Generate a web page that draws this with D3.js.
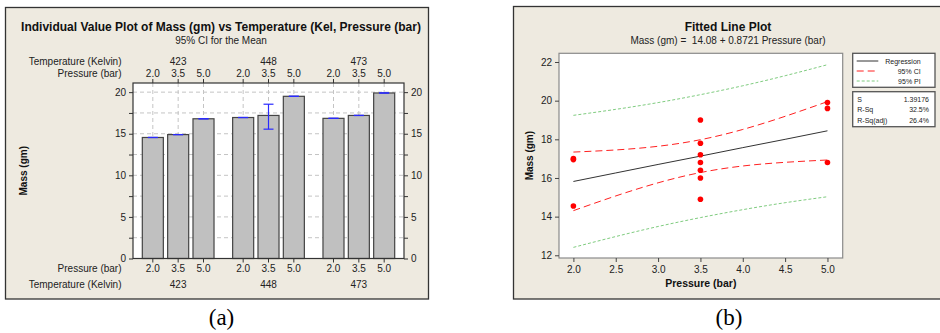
<!DOCTYPE html>
<html>
<head>
<meta charset="utf-8">
<script src="https://cdn.jsdelivr.net/npm/d3@7"></script>
<style>
  body { margin: 0; background: #fff; }
  svg { display: block; font-family: "Liberation Sans", Arial, sans-serif; }
</style>
</head>
<body>
<script>
// (a) individual value plot: means by temperature / pressure
const temps = ["423", "448", "473"];
const pressures = ["2.0", "3.5", "5.0"];
const massMeans = [14.55, 14.9, 16.8, 16.95, 17.2, 19.5, 16.85, 17.2, 19.9];
const ciLow = [14.55, 14.9, 16.8, 16.95, 15.55, 19.5, 16.85, 17.2, 19.9];
const ciHigh = [14.55, 14.9, 16.8, 16.95, 18.55, 19.5, 16.85, 17.2, 19.9];
const massTicks = [0, 2.5, 5, 7.5, 10, 12.5, 15, 17.5, 20];

// (b) fitted line plot
const obsPressure = [2, 2, 2, 3.5, 3.5, 3.5, 3.5, 3.5, 3.5, 3.5, 5, 5, 5];
const obsMass = [14.55, 16.95, 17.0, 19.0, 17.8, 17.2, 16.8, 16.4, 16.0, 14.9, 19.9, 19.6, 16.8];
const fitX = [2.0, 2.5, 3.0, 3.5, 4.0, 4.5, 5.0];
const fitY = [15.82, 16.26, 16.70, 17.13, 17.57, 18.00, 18.44];
const ciUpper = [17.34, 17.45, 17.64, 17.98, 18.51, 19.19, 19.95];
const ciLower = [14.31, 15.07, 15.75, 16.28, 16.62, 16.81, 16.93];
const piUpper = [19.24, 19.55, 19.90, 20.31, 20.77, 21.29, 21.86];
const piLower = [12.41, 12.97, 13.49, 13.95, 14.36, 14.72, 15.03];
const legendNames = ["Regression", "95% CI", "95% PI"];
const statNames = ["S", "R-Sq", "R-Sq(adj)"];
const statValues = ["1.39176", "32.5%", "26.4%"];

const bg = "#eeeae0";
const svg = d3.select("body").append("svg").attr("width", 940).attr("height", 333);

// ---------- panel (a) ----------
const pa = svg.append("g");
pa.append("rect").attr("x", 5.5).attr("y", 7.5).attr("width", 423).attr("height", 291.5)
  .attr("fill", bg).attr("stroke", "#333").attr("stroke-width", 1.3);

const aL = 133, aR = 404, aT = 83, aB = 258.5;
const x0 = d3.scaleBand().domain(temps).range([aL, aR]).paddingInner(0.15).paddingOuter(0.075);
const x1 = d3.scaleBand().domain(pressures).range([0, x0.bandwidth()]).paddingInner(0.17).paddingOuter(0.1);
const ya = d3.scaleLinear().domain([0, 21.1]).range([aB, aT]);

const bars = temps.flatMap((t, i) => pressures.map((p, j) => ({
  t, p, v: massMeans[i * 3 + j], lo: ciLow[i * 3 + j], hi: ciHigh[i * 3 + j]
})));
const cx = d => x0(d.t) + x1(d.p) + x1.bandwidth() / 2;

pa.append("rect").attr("x", aL).attr("y", aT).attr("width", aR - aL).attr("height", aB - aT).attr("fill", "#fff");

// grid
pa.append("g").selectAll("line").data(massTicks.filter(d => d > 0)).join("line")
  .attr("x1", aL).attr("x2", aR).attr("y1", d => ya(d)).attr("y2", d => ya(d))
  .attr("stroke", "#c4c4c4").attr("stroke-dasharray", "4,3");
pa.append("g").selectAll("line").data(bars).join("line")
  .attr("x1", cx).attr("x2", cx).attr("y1", aT).attr("y2", aB)
  .attr("stroke", "#c4c4c4").attr("stroke-dasharray", "4,3");

// bars
pa.append("g").selectAll("rect").data(bars).join("rect")
  .attr("x", d => x0(d.t) + x1(d.p)).attr("width", x1.bandwidth())
  .attr("y", d => ya(d.v)).attr("height", d => ya(0) - ya(d.v))
  .attr("fill", "#c0c0c0").attr("stroke", "#444").attr("stroke-width", 1.2);

// confidence intervals
const ci = pa.append("g").attr("stroke", "#2a2aff").attr("stroke-width", 1.2);
ci.selectAll(".v").data(bars).join("line").attr("class", "v")
  .attr("x1", cx).attr("x2", cx).attr("y1", d => ya(d.lo)).attr("y2", d => ya(d.hi));
ci.selectAll(".hi").data(bars).join("line").attr("class", "hi")
  .attr("x1", d => cx(d) - 5).attr("x2", d => cx(d) + 5).attr("y1", d => ya(d.hi)).attr("y2", d => ya(d.hi));
ci.selectAll(".lo").data(bars).join("line").attr("class", "lo")
  .attr("x1", d => cx(d) - 5).attr("x2", d => cx(d) + 5).attr("y1", d => ya(d.lo)).attr("y2", d => ya(d.lo));

// axes
const fmtA = d => (d % 5 === 0 ? d : "");
const axL = pa.append("g").attr("transform", `translate(${aL},0)`)
  .call(d3.axisLeft(ya).tickValues(massTicks).tickFormat(fmtA).tickSize(4).tickPadding(3));
const axR = pa.append("g").attr("transform", `translate(${aR},0)`)
  .call(d3.axisRight(ya).tickValues(massTicks).tickFormat(fmtA).tickSize(4).tickPadding(3));
[axL, axR].forEach(g => {
  g.select(".domain").remove();
  g.selectAll("text").attr("font-size", 10).attr("fill", "#222");
  g.selectAll("line").attr("stroke", "#333");
});
pa.selectAll(".tickT").data(bars).join("line").attr("class", "tickT")
  .attr("x1", cx).attr("x2", cx).attr("y1", aT).attr("y2", aT - 4).attr("stroke", "#333");
pa.selectAll(".tickB").data(bars).join("line").attr("class", "tickB")
  .attr("x1", cx).attr("x2", cx).attr("y1", aB).attr("y2", aB + 4).attr("stroke", "#333");
pa.append("rect").attr("x", aL).attr("y", aT).attr("width", aR - aL).attr("height", aB - aT)
  .attr("fill", "none").attr("stroke", "#333").attr("stroke-width", 1.2);

// category labels, top and bottom
const lab = pa.append("g").attr("font-size", 10).attr("fill", "#222");
[[77, 64.5], [272, 287.5]].forEach(([pY, tY]) => {
  lab.append("text").attr("x", 121.5).attr("y", pY).attr("text-anchor", "end").text("Pressure (bar)");
  lab.append("text").attr("x", 121.5).attr("y", tY).attr("text-anchor", "end").text("Temperature (Kelvin)");
  lab.selectAll(null).data(bars).join("text").attr("x", cx).attr("y", pY)
    .attr("text-anchor", "middle").text(d => d.p);
  lab.selectAll(null).data(temps).join("text").attr("x", d => x0(d) + x0.bandwidth() / 2).attr("y", tY)
    .attr("text-anchor", "middle").text(d => d);
});

pa.append("text").attr("x", 221).attr("y", 30.5).attr("text-anchor", "middle")
  .attr("font-size", 12).attr("font-weight", "bold").attr("fill", "#111")
  .text("Individual Value Plot of Mass (gm) vs Temperature (Kel, Pressure (bar)");
pa.append("text").attr("x", 221).attr("y", 44).attr("text-anchor", "middle")
  .attr("font-size", 10).attr("fill", "#222").text("95% CI for the Mean");
pa.append("text").attr("transform", `translate(27,${(aT + aB) / 2}) rotate(-90)`).attr("text-anchor", "middle")
  .attr("font-size", 10).attr("font-weight", "bold").attr("fill", "#111").text("Mass (gm)");

// ---------- panel (b) ----------
const pb = svg.append("g");
pb.append("rect").attr("x", 513.5).attr("y", 6.5).attr("width", 440).attr("height", 292.5)
  .attr("fill", bg).attr("stroke", "#333").attr("stroke-width", 1.3);

const bL = 559, bR = 842.7, bT = 53.3, bB = 258;
const xb = d3.scaleLinear().domain([1.83, 5.18]).range([bL, bR]);
const yb = d3.scaleLinear().domain([11.86, 22.45]).range([bB, bT]);

pb.append("rect").attr("x", bL).attr("y", bT).attr("width", bR - bL).attr("height", bB - bT)
  .attr("fill", "#fff").attr("stroke", "#8a8a8a").attr("stroke-width", 1.2);

const axB = pb.append("g").attr("transform", `translate(0,${bB})`)
  .call(d3.axisBottom(xb).tickValues(fitX).tickFormat(d3.format(".1f")).tickSize(4).tickPadding(4));
const axY = pb.append("g").attr("transform", `translate(${bL},0)`)
  .call(d3.axisLeft(yb).tickValues([12, 14, 16, 18, 20, 22]).tickSize(4).tickPadding(3));
[axB, axY].forEach(g => {
  g.select(".domain").remove();
  g.selectAll("text").attr("font-size", 10).attr("fill", "#222");
  g.selectAll("line").attr("stroke", "#444");
});

const line = (ys) => d3.line().x((d, i) => xb(fitX[i])).y(d => yb(d)).curve(d3.curveNatural)(ys);
const styles = [
  { stroke: "#333", dash: null, w: 1 },
  { stroke: "#ff2020", dash: "7,4", w: 1 },
  { stroke: "#80cc80", dash: "3,2", w: 1 }
];
pb.append("path").attr("d", line(piUpper)).attr("fill", "none").attr("stroke", styles[2].stroke).attr("stroke-dasharray", styles[2].dash);
pb.append("path").attr("d", line(piLower)).attr("fill", "none").attr("stroke", styles[2].stroke).attr("stroke-dasharray", styles[2].dash);
pb.append("path").attr("d", line(ciUpper)).attr("fill", "none").attr("stroke", styles[1].stroke).attr("stroke-dasharray", styles[1].dash);
pb.append("path").attr("d", line(ciLower)).attr("fill", "none").attr("stroke", styles[1].stroke).attr("stroke-dasharray", styles[1].dash);
pb.append("path").attr("d", line(fitY)).attr("fill", "none").attr("stroke", styles[0].stroke);

pb.append("g").selectAll("circle").data(obsMass).join("circle")
  .attr("cx", (d, i) => xb(obsPressure[i])).attr("cy", d => yb(d)).attr("r", 2.8).attr("fill", "#ff0000");

pb.append("text").attr("x", 728).attr("y", 30.5).attr("text-anchor", "middle")
  .attr("font-size", 12).attr("font-weight", "bold").attr("fill", "#111").text("Fitted Line Plot");
pb.append("text").attr("x", 728).attr("y", 44).attr("text-anchor", "middle")
  .attr("font-size", 10).attr("fill", "#222").attr("xml:space", "preserve")
  .text("Mass (gm) =  14.08 + 0.8721 Pressure (bar)");
pb.append("text").attr("x", (bL + bR) / 2).attr("y", 287).attr("text-anchor", "middle")
  .attr("font-size", 10.5).attr("font-weight", "bold").attr("fill", "#111").text("Pressure (bar)");
pb.append("text").attr("transform", `translate(533,${(bT + bB) / 2}) rotate(-90)`).attr("text-anchor", "middle")
  .attr("font-size", 10).attr("font-weight", "bold").attr("fill", "#111").text("Mass (gm)");

// legend boxes
const lg = pb.append("g").attr("font-size", 7).attr("fill", "#222");
lg.append("rect").attr("x", 852.7).attr("y", 53.3).attr("width", 82.3).attr("height", 34)
  .attr("fill", "#fff").attr("stroke", "#555").attr("stroke-width", 1.3);
legendNames.forEach((n, i) => {
  const y = 61 + i * 10;
  lg.append("line").attr("x1", 856.7).attr("x2", 878.3).attr("y1", y).attr("y2", y)
    .attr("stroke", styles[i].stroke).attr("stroke-dasharray", styles[i].dash);
  lg.append("text").attr("x", 920.7).attr("y", y + 2.5).attr("text-anchor", "end").text(n);
});
lg.append("rect").attr("x", 852.7).attr("y", 91.7).attr("width", 82.3).attr("height", 35)
  .attr("fill", "#fff").attr("stroke", "#555").attr("stroke-width", 1.3);
statNames.forEach((n, i) => {
  const y = 101.5 + i * 10.8;
  lg.append("text").attr("x", 857.3).attr("y", y).text(n);
  lg.append("text").attr("x", 929).attr("y", y).attr("text-anchor", "end").text(statValues[i]);
});

// captions
svg.append("g").attr("font-family", "'Liberation Serif', 'Times New Roman', serif").attr("font-size", 23)
  .attr("text-anchor", "middle").attr("fill", "#000")
  .selectAll("text").data([["(a)", 221.5], ["(b)", 729]]).join("text")
  .attr("x", d => d[1]).attr("y", 325).text(d => d[0]);
</script>
</body>
</html>
